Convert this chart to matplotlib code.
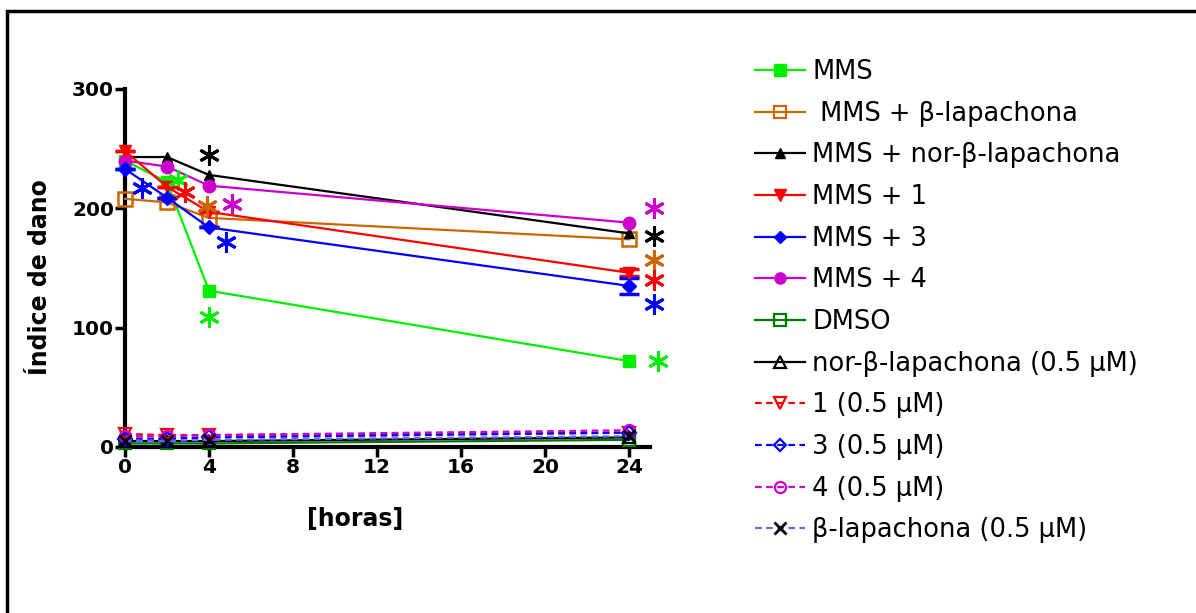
import matplotlib
matplotlib.use("Agg")
import matplotlib.pyplot as plt
from matplotlib.lines import Line2D
from matplotlib.patches import Rectangle

plt.rcParams['font.family'] = ['DejaVu Sans']

hours = [0, 2, 4, 24]

# MMS-treated series
mms = [240, 222, 131, 72]
mms_blap = [208, 205, 192, 174]
mms_norblap = [243, 243, 228, 179]
mms_1 = [248, 218, 197, 146]
mms_1_err = [0, 0, 0, 3]
mms_3 = [233, 209, 184, 135]
mms_3_err = [0, 0, 0, 7]
mms_4 = [240, 235, 219, 188]

# controls (0.5 uM)
dmso = [3, 3, 3, 6]
norblap = [5, 5, 5, 8]
c1 = [11, 10, 10, 12]
c3 = [7, 7, 8, 12]
c4 = [9, 9, 10, 14]
blap = [5, 5, 6, 9]

# significance asterisks (x in hours, y in index units)
ast_x = [0.8, 2.5, 2.85, 3.9, 4.0, 4.0, 4.8, 5.1, 25.2, 25.2, 25.2, 25.2, 25.2, 25.4]
ast_y = [217, 224, 214, 202, 245, 109, 172, 204, 200, 177, 157, 140, 120, 72]
ast_c = ['#0000FF', '#00EE00', '#FF0000', '#CC6600', '#000000', '#00EE00', '#0000FF', '#CC00CC',
         '#CC00CC', '#000000', '#CC6600', '#FF0000', '#0000FF', '#00EE00']

labels = ['MMS', ' MMS + β-lapachona', 'MMS + nor-β-lapachona', 'MMS + 1', 'MMS + 3', 'MMS + 4',
          'DMSO', 'nor-β-lapachona (0.5 µM)', '1 (0.5 µM)', '3 (0.5 µM)', '4 (0.5 µM)',
          'β-lapachona (0.5 µM)']

W, H = 1196, 613
fig = plt.figure(figsize=(W / 100, H / 100), dpi=100)

# axes: x 0..25 maps to px 125..650, y 0..300 maps to px 447..89
ax = fig.add_axes([125 / W, 1 - 447 / H, 525 / W, 358 / H])
ax.set_xlim(0, 25)
ax.set_ylim(0, 300)

green = '#00EE00'
brown = '#CC6600'
red = '#FF0000'
blue = '#0000FF'
mag = '#CC00CC'
dgreen = '#007700'
lblue = '#6666FF'

ms = 8
kw = dict(lw=1.6, clip_on=False, zorder=3)

# controls first (behind)
ax.plot(hours, dmso, color=dgreen, marker='s', mfc='none', mec=dgreen, ms=ms, mew=1.6, **kw)
ax.plot(hours, norblap, color='black', marker='^', mfc='none', mec='black', ms=ms, mew=1.6, **kw)
ax.plot(hours, c1, color=red, ls=(0, (3, 2)), marker='v', mfc='none', mec=red, ms=ms, mew=1.6, **kw)
ax.plot(hours, c3, color=blue, ls=(0, (3, 2)), marker='D', mfc='none', mec=blue, ms=ms - 1, mew=1.6, **kw)
ax.plot(hours, c4, color=mag, ls=(0, (3, 2)), marker='o', mfc='none', mec=mag, ms=ms, mew=1.6, **kw)
ax.plot(hours, blap, color=lblue, ls=(0, (3, 2)), marker='x', mec='black', ms=ms, mew=2, **kw)

# MMS series
ax.plot(hours, mms, color=green, marker='s', mfc=green, mec=green, ms=ms + 1, **kw)
ax.plot(hours, mms_blap, color=brown, marker='s', mfc='none', mec=brown, ms=ms + 2, mew=1.8, **kw)
ax.plot(hours, mms_norblap, color='black', marker='^', mfc='black', mec='black', ms=ms - 1, **kw)
ax.errorbar(hours, mms_1, yerr=mms_1_err, color=red, marker='v', mfc=red, mec=red, ms=ms,
            capsize=7, elinewidth=1.6, capthick=2.5, **kw)
ax.errorbar(hours, mms_3, yerr=mms_3_err, color=blue, marker='D', mfc=blue, mec=blue, ms=ms - 1,
            capsize=7, elinewidth=1.6, capthick=2.5, **kw)
ax.plot(hours, mms_4, color=mag, marker='o', mfc=mag, mec=mag, ms=ms + 1, **kw)

for x, y, c in zip(ast_x, ast_y, ast_c):
    ax.plot([x], [y], marker=(6, 2, 0), color=c, ms=15, mew=2.2, ls='none', clip_on=False, zorder=4)

# spines
for s in ['top', 'right']:
    ax.spines[s].set_visible(False)
ax.spines['left'].set_linewidth(3)
ax.spines['bottom'].set_linewidth(3)
ax.spines['bottom'].set_zorder(2)

ax.set_xticks([0, 4, 8, 12, 16, 20, 24])
ax.set_yticks([0, 100, 200, 300])
ax.tick_params(axis='both', direction='out', width=2.5, length=7, labelsize=14.5, pad=1)
for lab in ax.get_xticklabels() + ax.get_yticklabels():
    lab.set_fontweight('bold')

ax.set_xlabel('[horas]', fontsize=17, fontweight='bold')
ax.xaxis.set_label_coords(230 / 525, -60 / 358)
ax.set_ylabel('Índice de dano', fontsize=17, fontweight='bold')
ax.yaxis.set_label_coords(-73 / 525, 170 / 358)

# legend
handles = [
    Line2D([], [], color=green, marker='s', mfc=green, mec=green, ms=ms + 1, lw=1.6),
    Line2D([], [], color=brown, marker='s', mfc='none', mec=brown, ms=ms, mew=1.6, lw=1.6),
    Line2D([], [], color='black', marker='^', mfc='black', mec='black', ms=ms - 1, lw=1.6),
    Line2D([], [], color=red, marker='v', mfc=red, mec=red, ms=ms, lw=1.6),
    Line2D([], [], color=blue, marker='D', mfc=blue, mec=blue, ms=ms - 2, lw=1.6),
    Line2D([], [], color=mag, marker='o', mfc=mag, mec=mag, ms=ms, lw=1.6),
    Line2D([], [], color=dgreen, marker='s', mfc='none', mec=dgreen, ms=ms, mew=1.6, lw=1.6),
    Line2D([], [], color='black', marker='^', mfc='none', mec='black', ms=ms, mew=1.6, lw=1.6),
    Line2D([], [], color=red, ls=(0, (3, 2)), marker='v', mfc='none', mec=red, ms=ms, mew=1.6, lw=1.6),
    Line2D([], [], color=blue, ls=(0, (3, 2)), marker='D', mfc='none', mec=blue, ms=ms - 2, mew=1.6, lw=1.6),
    Line2D([], [], color=mag, ls=(0, (3, 2)), marker='o', mfc='none', mec=mag, ms=ms, mew=1.6, lw=1.6),
    Line2D([], [], color=lblue, ls=(0, (3, 2)), marker='x', mec='black', ms=ms, mew=2, lw=1.6),
]
leg = fig.legend(handles, labels, loc='upper left', bbox_to_anchor=(755 / W, 1 - 59 / H),
                 frameon=False, fontsize=18.5, handlelength=1.95, handletextpad=0.27,
                 labelspacing=0.61, borderaxespad=0, borderpad=0)

# outer frame (top and left edges visible)
fig.patches.append(Rectangle((7 / W, -0.1), 1.2, 1 - 11 / H + 0.1, transform=fig.transFigure,
                             fill=False, lw=2.5, ec='black', clip_on=False))

fig.savefig('out.png', dpi=100)
